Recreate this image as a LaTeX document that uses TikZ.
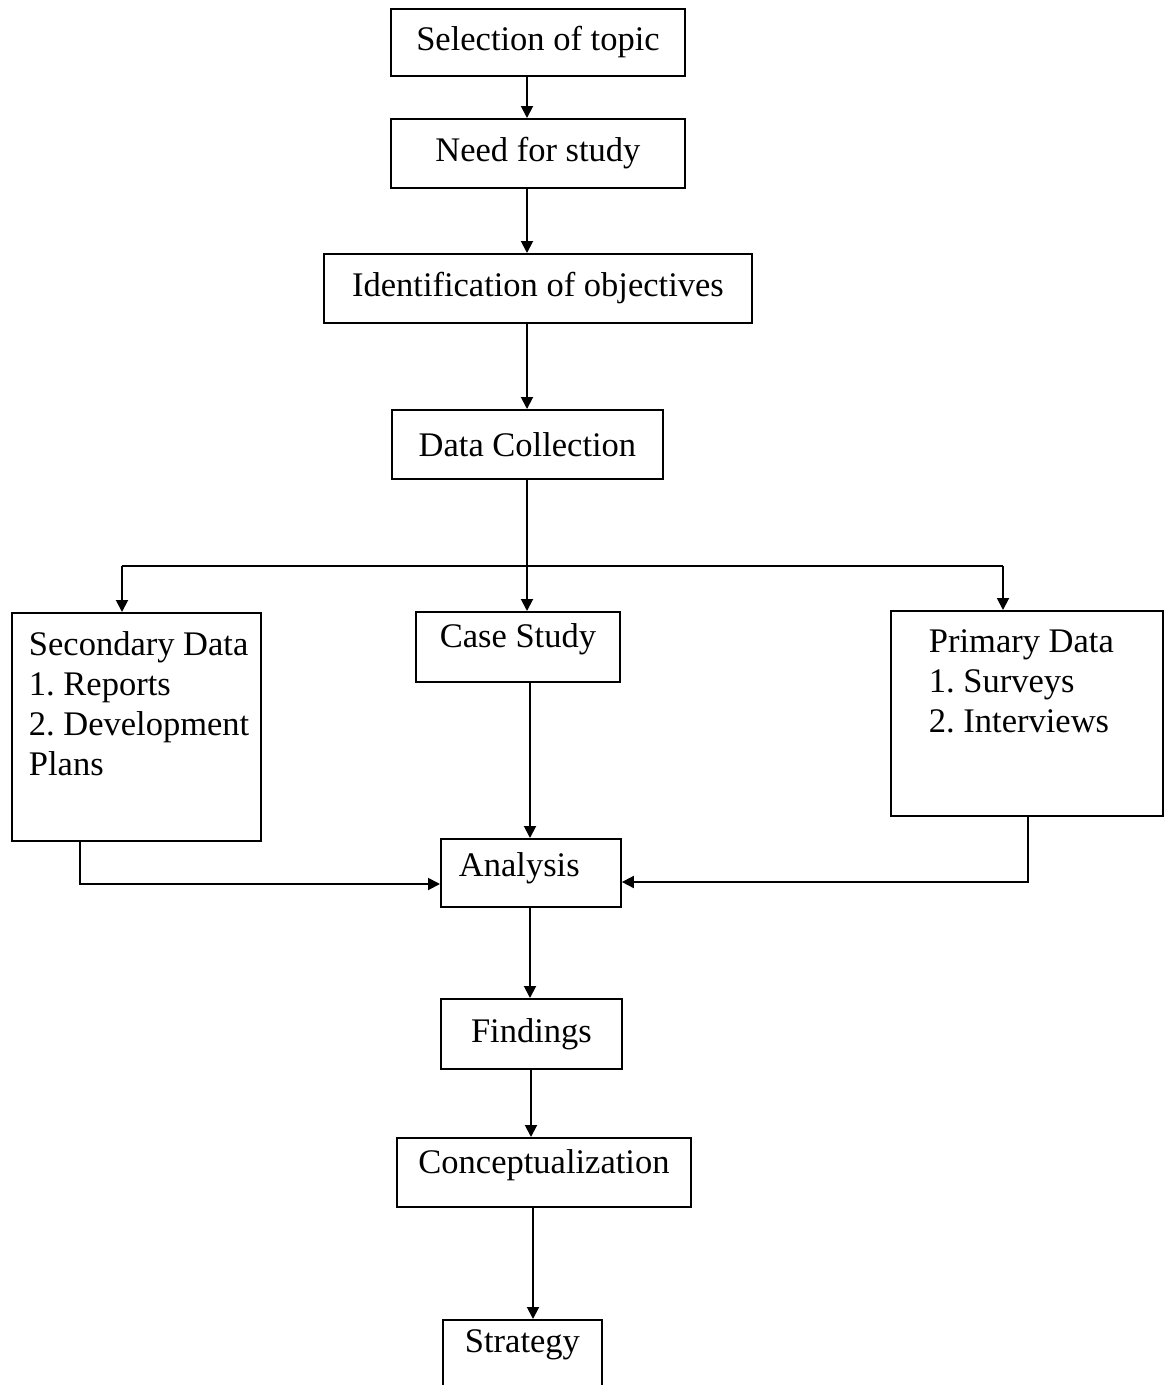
\documentclass[tikz,border=0pt]{standalone}
\usepackage{fontspec}
\setmainfont{Liberation Serif}
\usetikzlibrary{arrows.meta}
\frenchspacing
\tikzset{
  box/.style={draw=black, line width=1.9pt, anchor=north west, inner sep=0pt, align=center,
    font=\fontsize{34.5}{40}\selectfont},
  conn/.style={draw=black, line width=1.9pt},
  arr/.style={conn, -{Triangle[width=12pt,length=12pt]}},
}
\begin{document}
\begin{tikzpicture}[x=1pt,y=-1pt]
\useasboundingbox (0,0) rectangle (1171,1385);
\clip (0,0) rectangle (1171,1385);
\fill[white] (0,0) rectangle (1171,1385);

\node[box, minimum width=294pt, minimum height=67pt] (sel) at (390,8) {Selection of topic};
\node[box, minimum width=294pt, minimum height=69pt] (need) at (390,118) {Need for study};
\node[box, minimum width=428pt, minimum height=69pt] (ident) at (323,253) {Identification of objectives};
\node[box, minimum width=271pt, minimum height=69pt] (dc) at (391,409) {Data Collection};
\node[box, minimum width=249pt, minimum height=228pt] (sec) at (11,612)
  {\parbox[t][228pt][t]{249pt}{\raggedright\leftskip=17pt\parindent=0pt\vspace*{19pt}Secondary Data\\1. Reports\\2. Development\\Plans}};
\node[box, minimum width=204pt, minimum height=70pt] (cs) at (415,611)
  {\parbox[t][70pt][t]{204pt}{\centering\vspace*{12pt}Case Study}};
\node[box, minimum width=272pt, minimum height=205pt] (pri) at (890,610)
  {\parbox[t][205pt][t]{272pt}{\raggedright\leftskip=38pt\parindent=0pt\vspace*{19pt}Primary Data\\1. Surveys\\2. Interviews}};
\node[box, minimum width=180pt, minimum height=68pt] (ana) at (440,838)
  {\parbox[t][68pt][t]{180pt}{\leftskip=18pt\parindent=0pt\vspace*{14pt}Analysis}};
\node[box, minimum width=181pt, minimum height=70pt] (find) at (440,998) {Findings};
\node[box, minimum width=294pt, minimum height=69pt] (conc) at (396,1137)
  {\parbox[t][69pt][t]{294pt}{\centering\vspace*{12pt}Conceptualization}};
\node[box, minimum width=159pt, minimum height=100pt] (strat) at (442,1319)
  {\parbox[t][100pt][t]{159pt}{\centering\vspace*{10pt}Strategy}};

\coordinate (xm) at (527,0);
\coordinate (xa) at (530,0);
\coordinate (xf) at (531,0);
\coordinate (xs) at (533,0);
\coordinate (bl) at (122,566);
\coordinate (br) at (1003,566);
\coordinate (sx) at (80,884);
\coordinate (px) at (1028,882);

\draw[arr] (sel.south -| xm) -- (need.north -| xm);
\draw[arr] (need.south -| xm) -- (ident.north -| xm);
\draw[arr] (ident.south -| xm) -- (dc.north -| xm);
\draw[arr] (dc.south -| xm) -- (cs.north -| xm);
\draw[conn] (bl) -- (br);
\draw[arr] (bl) -- (sec.north -| bl);
\draw[arr] (br) -- (pri.north -| br);
\draw[arr] (cs.south -| xa) -- (ana.north -| xa);
\draw[arr] (sec.south -| sx) -- (sx) -- (ana.west |- sx);
\draw[arr] (pri.south -| px) -- (px) -- (ana.east |- px);
\draw[arr] (ana.south -| xa) -- (find.north -| xa);
\draw[arr] (find.south -| xf) -- (conc.north -| xf);
\draw[arr] (conc.south -| xs) -- (strat.north -| xs);
\end{tikzpicture}
\end{document}
